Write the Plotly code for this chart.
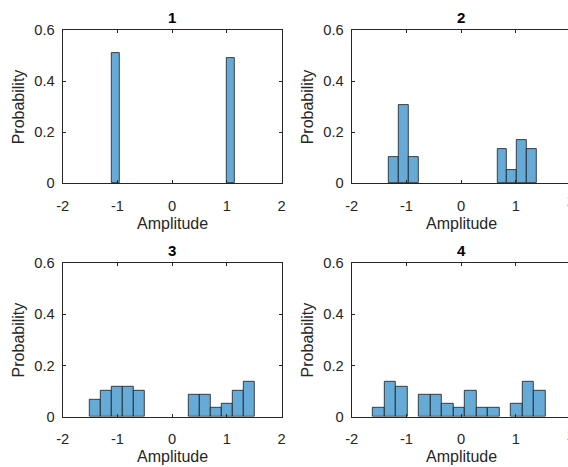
import plotly.graph_objects as go

N = 59
# panel 1
edges1 = [-1.10, 1.00]
counts1 = [30, 29]
width1 = 0.15
# panel 2
edges2 = [-1.32, -1.14, -0.96, 0.66, 0.84, 1.02, 1.20]
counts2 = [6, 18, 6, 8, 3, 10, 8]
width2 = 0.18
# panel 3
edges3 = [-1.5, -1.3, -1.1, -0.9, -0.7, 0.3, 0.5, 0.7, 0.9, 1.1, 1.3]
counts3 = [4, 6, 7, 7, 6, 5, 5, 2, 3, 6, 8]
width3 = 0.2
# panel 4
edges4 = [-1.61, -1.40, -1.19, -0.77, -0.56, -0.35, -0.14, 0.07, 0.28, 0.49, 0.91, 1.12, 1.33]
counts4 = [2, 8, 7, 5, 5, 3, 2, 6, 2, 2, 3, 8, 6]
width4 = 0.21

titles = ["1", "2", "3", "4"]
xticks = [-2, -1, 0, 1, 2]
yticks = [0, 0.2, 0.4, 0.6]
xlabel = "Amplitude"
ylabel = "Probability"

W, H = 568, 467
FONT = "Liberation Sans, Arial, sans-serif"
TXT = "#262626"
BAR = "rgb(102,170,215)"

# pixel geometry of the axes boxes
px_left = [62.7, 351.7]
px_w = 219.0
ppu = px_w / 4.0
rows = [(30.0, 183.3), (262.7, 416.7)]

fig = go.Figure()
panels = [(edges1, counts1, width1), (edges2, counts2, width2),
          (edges3, counts3, width3), (edges4, counts4, width4)]

annotations = []
for i, (edges, counts, w) in enumerate(panels):
    r, c = divmod(i, 2)
    ax = "" if i == 0 else str(i + 1)
    fig.add_trace(go.Bar(
        x=edges, y=[k / N for k in counts], width=w, offset=0,
        marker=dict(color=BAR, line=dict(color="#1a1a1a", width=0.8)),
        xaxis="x" + ax, yaxis="y" + ax, showlegend=False, hoverinfo="skip"))
    x0 = px_left[c]
    x1 = min(x0 + px_w, W)
    top, bot = rows[r]
    xmax = -2 + (x1 - x0) / ppu
    common_line = dict(showline=True, linecolor=TXT, linewidth=1,
                       ticks="inside", ticklen=3, tickwidth=1, tickcolor=TXT,
                       showgrid=False, zeroline=False, automargin=False,
                       tickfont=dict(family=FONT, size=14.7, color=TXT))
    fig.update_layout(**{
        "xaxis" + ax: dict(domain=[x0 / W, x1 / W], range=[-2, xmax],
                           anchor="y" + ax, tickvals=xticks,
                           ticktext=[str(v) for v in xticks],
                           mirror="ticks", ticklabelstandoff=9, **common_line),
        "yaxis" + ax: dict(domain=[1 - bot / H, 1 - top / H], range=[0, 0.6],
                           anchor="x" + ax, tickvals=yticks,
                           ticktext=["0", "0.2", "0.4", "0.6"],
                           mirror=("ticks" if c == 0 else False),
                           ticklabelstandoff=4, **common_line),
    })
    # clipped "2" tick label for right-column panels (cut by the figure edge)
    if c == 1:
        annotations.append(dict(text="2", xref="paper", yref="paper",
                                x=(x0 + px_w) / W, y=1 - (bot + 18.2) / H,
                                xanchor="center", yanchor="middle", showarrow=False,
                                font=dict(family=FONT, size=14.7, color=TXT)))
    cx = (x0 + x0 + px_w) / 2
    annotations.append(dict(text="<b>%s</b>" % titles[i], xref="paper", yref="paper",
                            x=cx / W, y=1 - (top - 12) / H, xanchor="center",
                            yanchor="middle", showarrow=False,
                            font=dict(family=FONT, size=15, color="#000000")))
    annotations.append(dict(text=xlabel, xref="paper", yref="paper",
                            x=cx / W, y=1 - (bot + 40) / H, xanchor="center",
                            yanchor="middle", showarrow=False,
                            font=dict(family=FONT, size=16, color=TXT)))
    annotations.append(dict(text=ylabel, xref="paper", yref="paper",
                            x=(x0 - 44) / W, y=1 - (top + bot) / 2 / H,
                            xanchor="center", yanchor="middle", textangle=-90,
                            showarrow=False,
                            font=dict(family=FONT, size=16, color=TXT)))

fig.update_layout(width=W, height=H,
                  margin=dict(l=0, r=0, t=0, b=0, pad=0, autoexpand=False),
                  paper_bgcolor="white", plot_bgcolor="white",
                  bargap=0, annotations=annotations)
fig.write_html("out.html")
